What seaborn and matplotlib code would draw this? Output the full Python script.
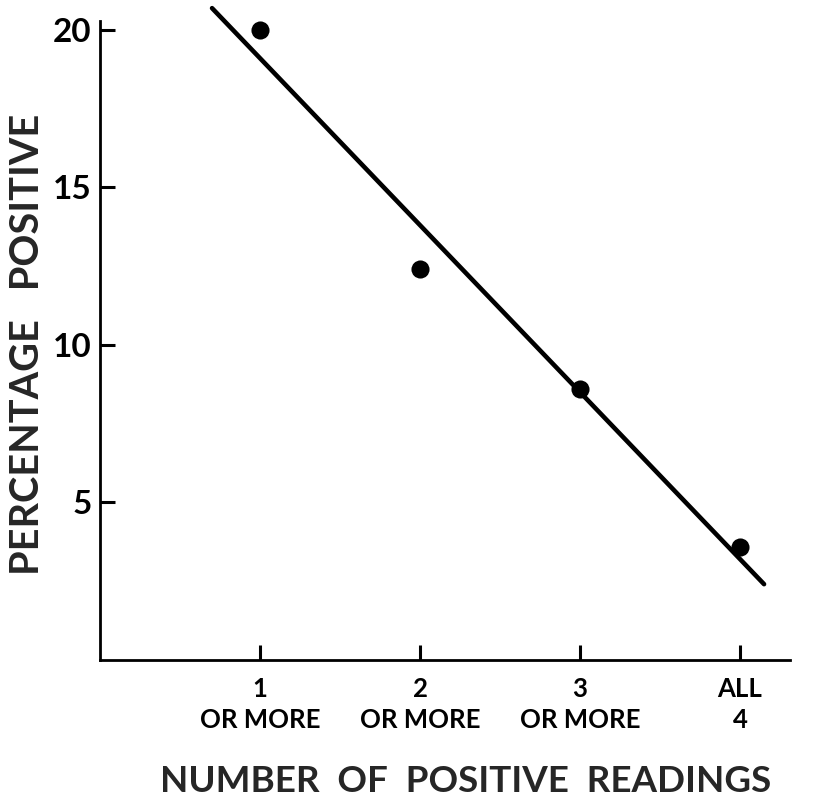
import numpy as np
import pandas as pd
import seaborn as sns
import matplotlib
matplotlib.use("Agg")
import matplotlib.pyplot as plt

# data
readings = [1, 2, 3, 4]
tick_labels = ["1\nOR MORE", "2\nOR MORE", "3\nOR MORE", "ALL\n4"]
percent_positive = [20.0, 12.4, 8.6, 3.6]
fit_x_extent = [0.7, 4.15]
y_ticks = [5, 10, 15, 20]

sns.set_style("ticks")
plt.rcParams['font.family'] = ['Lato', 'DejaVu Sans']
plt.rcParams['font.weight'] = 'bold'

fig = plt.figure(figsize=(8.2, 7.98), dpi=100)
ax = fig.add_axes([0.122, 0.173, 0.963 - 0.122, 0.974 - 0.173])

df = pd.DataFrame({"x": readings, "y": percent_positive})
slope, intercept = np.polyfit(df["x"], df["y"], 1)
line_df = pd.DataFrame({"x": fit_x_extent})
line_df["y"] = intercept + slope * line_df["x"]

sns.lineplot(data=line_df, x="x", y="y", ax=ax, color="black", linewidth=3.3,
             clip_on=False, zorder=2)
sns.scatterplot(data=df, x="x", y="y", ax=ax, color="black", s=170,
                edgecolor="black", linewidth=0, zorder=3, clip_on=False)

ax.set_xlim(0, 4.31)
ax.set_ylim(0, 20.29)
ax.set_xticks(readings)
ax.set_xticklabels(tick_labels, fontsize=18.5, fontweight="bold", linespacing=1.35)
ax.set_yticks(y_ticks)
ax.set_yticklabels([str(v) for v in y_ticks], fontsize=24, fontweight="bold")

ax.tick_params(axis="both", direction="in", length=11, width=2.2, colors="black")
ax.tick_params(axis="x", pad=12)
ax.tick_params(axis="y", pad=6)

for side in ["top", "right"]:
    ax.spines[side].set_visible(False)
for side in ["left", "bottom"]:
    ax.spines[side].set_linewidth(2.0)
    ax.spines[side].set_color("black")

ax.set_xlabel("NUMBER  OF  POSITIVE  READINGS", fontsize=26.5, fontweight="bold")
ax.xaxis.set_label_coords(0.53, -0.165)
ax.set_ylabel("PERCENTAGE   POSITIVE", fontsize=28.5, fontweight="bold")
ax.yaxis.set_label_coords(-0.078, 0.493)

fig.savefig("out.png", dpi=100, facecolor="white")
